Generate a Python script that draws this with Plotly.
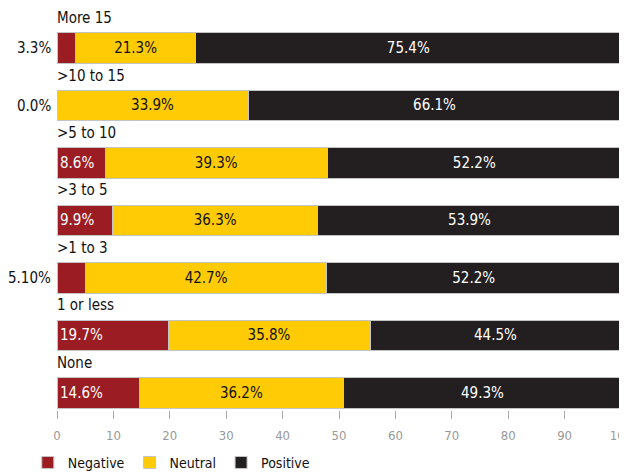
import plotly.graph_objects as go

categories = ["More 15", ">10 to 15", ">5 to 10", ">3 to 5", ">1 to 3", "1 or less", "None"]
negative = [3.3, 0.0, 8.6, 9.9, 5.1, 19.7, 14.6]
neutral = [21.3, 33.9, 39.3, 36.3, 42.7, 35.8, 36.2]
positive = [75.4, 66.1, 52.2, 53.9, 52.2, 44.5, 49.3]
negative_labels = ["3.3%", "0.0%", "8.6%", "9.9%", "5.10%", "19.7%", "14.6%"]
neutral_labels = ["21.3%", "33.9%", "39.3%", "36.3%", "42.7%", "35.8%", "36.2%"]
positive_labels = ["75.4%", "66.1%", "52.2%", "53.9%", "52.2%", "44.5%", "49.3%"]
tick_vals = [0, 10, 20, 30, 40, 50, 60, 70, 80, 90, 100]

FONT = "Liberation Sans Narrow, DejaVu Sans Condensed, Arial Narrow, sans-serif"
C_NEG = "#9b1c22"
C_NEU = "#ffcb05"
C_POS = "#231f20"
OUTLINE = dict(color="#c4c4c4", width=1)

small = 6.0
neg_inside = [l if v >= small else "" for v, l in zip(negative, negative_labels)]

fig = go.Figure()
fig.add_trace(go.Bar(
    y=categories, x=negative, name="Negative", orientation="h",
    marker=dict(color=C_NEG, line=OUTLINE), text=neg_inside,
    textposition="inside", insidetextanchor="start", textangle=0,
    textfont=dict(family=FONT, size=15, color="white"), hoverinfo="skip",
))
fig.add_trace(go.Bar(
    y=categories, x=neutral, name="Neutral", orientation="h",
    marker=dict(color=C_NEU, line=OUTLINE), text=neutral_labels,
    textposition="inside", insidetextanchor="middle", textangle=0,
    textfont=dict(family=FONT, size=15, color="#111111"), hoverinfo="skip",
))
fig.add_trace(go.Bar(
    y=categories, x=positive, name="Positive", orientation="h",
    marker=dict(color=C_POS, line=OUTLINE), text=positive_labels,
    textposition="inside", insidetextanchor="middle", textangle=0,
    textfont=dict(family=FONT, size=15, color="white"), hoverinfo="skip",
))

annotations = []
for i, c in enumerate(categories):
    annotations.append(dict(
        x=0, y=i, xref="x", yref="y", text=c, showarrow=False,
        xanchor="left", yanchor="middle", yshift=30, xshift=-2,
        font=dict(family=FONT, size=15, color="#111111"),
    ))
    if negative[i] < small:
        annotations.append(dict(
            x=0, y=i, xref="x", yref="y", text=negative_labels[i], showarrow=False,
            xanchor="right", yanchor="middle", xshift=-4,
            font=dict(family=FONT, size=15, color="#111111"),
        ))

fig.update_layout(
    width=619, height=467,
    margin=dict(l=49, r=6, t=12, b=65, autoexpand=False),
    barmode="stack", bargap=0.47,
    plot_bgcolor="white", paper_bgcolor="white",
    font=dict(family=FONT, size=15, color="#111111"),
    xaxis=dict(
        range=[0, 100], tickvals=tick_vals, showgrid=False, zeroline=False,
        showline=False, ticks="outside", ticklen=8, tickcolor="#aaaaaa",
        tickfont=dict(family=FONT, size=13, color="#999999"),
        automargin=False, ticklabelstandoff=5, ticklabeloverflow="allow",
    ),
    yaxis=dict(
        categoryorder="array", categoryarray=categories,
        range=[6.296, -0.487], showticklabels=False, showgrid=False,
        zeroline=False, showline=False, automargin=False,
    ),
    legend=dict(
        orientation="h", x=0.032, y=0.026, xref="container", yref="container",
        xanchor="left", yanchor="middle",
        font=dict(family=FONT, size=14, color="#111111"),
        traceorder="normal", itemwidth=30,
    ),
    annotations=annotations,
    uniformtext=dict(mode=False),
)

fig.write_html("out.html")
